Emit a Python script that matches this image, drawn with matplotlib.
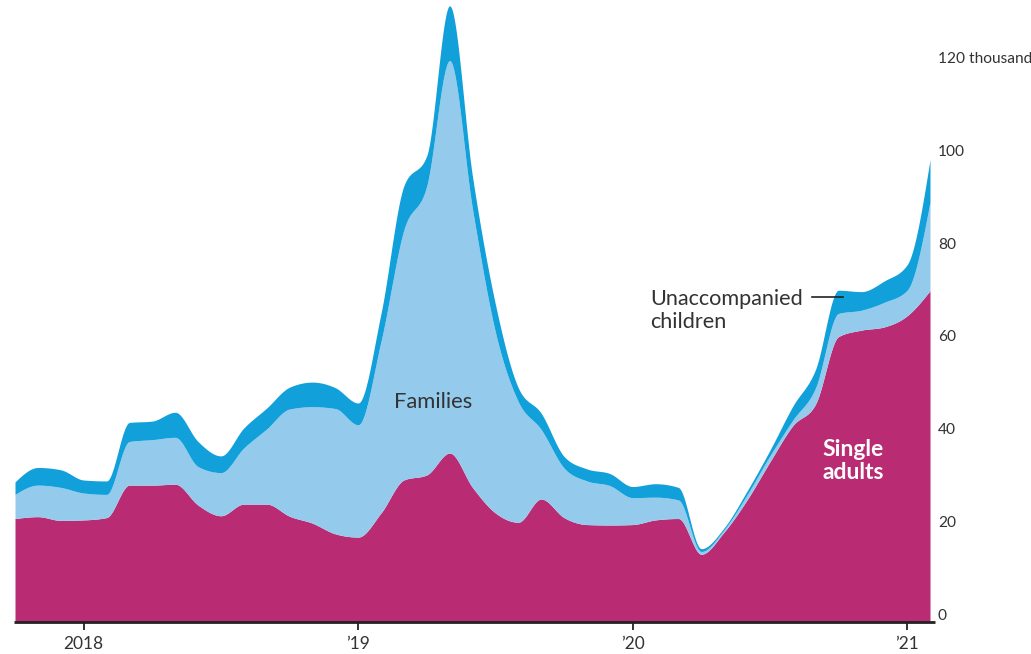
import numpy as np
import matplotlib
matplotlib.use("Agg")
import matplotlib.pyplot as plt
from matplotlib.transforms import blended_transform_factory

# Monthly data, Oct 2017 .. Feb 2021 (thousands)
months = ["2017-10", "2017-11", "2017-12", "2018-01", "2018-02", "2018-03", "2018-04", "2018-05",
          "2018-06", "2018-07", "2018-08", "2018-09", "2018-10", "2018-11", "2018-12", "2019-01",
          "2019-02", "2019-03", "2019-04", "2019-05", "2019-06", "2019-07", "2019-08", "2019-09",
          "2019-10", "2019-11", "2019-12", "2020-01", "2020-02", "2020-03", "2020-04", "2020-05",
          "2020-06", "2020-07", "2020-08", "2020-09", "2020-10", "2020-11", "2020-12", "2021-01",
          "2021-02"]
single_adults = [22.3, 22.7, 21.9, 22.0, 22.5, 29.5, 29.5, 29.7, 25.2, 22.9, 25.4, 25.4, 22.8, 21.3,
                 19.0, 18.3, 23.5, 30.6, 31.7, 36.4, 29.0, 23.5, 21.5, 26.5, 22.5, 21.0, 20.9, 21.0,
                 22.0, 22.3, 14.6, 19.4, 26.3, 34.5, 42.3, 47.0, 61.5, 62.9, 63.6, 66.0, 71.4]
families = [5.2, 6.8, 7.1, 5.8, 5.0, 9.4, 9.8, 10.1, 8.3, 9.3, 12.1, 16.2, 23.1, 25.1,
            27.0, 24.2, 37.0, 53.9, 62.3, 84.6, 60.0, 39.0, 26.0, 15.0, 10.7, 9.4, 8.5, 5.8,
            4.9, 4.0, 0.6, 0.5, 1.1, 1.3, 1.2, 3.5, 5.0, 4.3, 5.3, 5.5, 19.1]
unaccompanied_children = [2.7, 3.8, 3.8, 2.8, 2.9, 4.1, 4.0, 5.4, 5.4, 3.6, 4.3, 4.5, 4.7, 5.3,
                          4.5, 4.7, 6.0, 9.5, 6.5, 11.8, 7.0, 6.0, 3.0, 3.5, 2.5, 2.6, 2.6, 2.4,
                          2.9, 2.7, 0.6, 0.4, 0.8, 1.2, 3.0, 4.0, 5.0, 4.0, 4.6, 5.5, 9.1]
year_ticks = [3, 15, 27, 39]
year_labels = ["2018", "\u201919", "\u201920", "\u201921"]
y_ticks = [0, 20, 40, 60, 80, 100, 120]
y_labels = ["0", "20", "40", "60", "80", "100", "120 thousand"]

C_ADULT = "#B92B72"
C_FAM = "#94CAEC"
C_UAC = "#12A0DA"
TXT = "#333333"


def monotone(x, y, xs):
    """Monotone cubic (d3 curveMonotoneX style) evaluation for drawing."""
    x = np.asarray(x, float); y = np.asarray(y, float)
    h = np.diff(x); s = np.diff(y) / h
    n = len(x)
    m = np.zeros(n)
    for i in range(1, n - 1):
        s0, s1 = s[i - 1], s[i]
        p = (s0 * h[i] + s1 * h[i - 1]) / (h[i - 1] + h[i])
        m[i] = (np.sign(s0) + np.sign(s1)) * min(abs(s0), abs(s1), 0.5 * abs(p))
    m[0] = (3 * s[0] - m[1]) / 2
    m[-1] = (3 * s[-1] - m[-2]) / 2
    idx = np.clip(np.searchsorted(x, xs) - 1, 0, n - 2)
    t = (xs - x[idx]) / h[idx]
    t2, t3 = t * t, t * t * t
    h00 = 2 * t3 - 3 * t2 + 1
    h10 = t3 - 2 * t2 + t
    h01 = -2 * t3 + 3 * t2
    h11 = t3 - t2
    return h00 * y[idx] + h10 * h[idx] * m[idx] + h01 * y[idx + 1] + h11 * h[idx] * m[idx + 1]


x = np.arange(len(months))
b1 = np.array(single_adults)
b2 = b1 + np.array(families)
b3 = b2 + np.array(unaccompanied_children)
xs = np.linspace(0, len(months) - 1, 2000)
s1 = monotone(x, b1, xs)
s2 = monotone(x, b2, xs)
s3 = monotone(x, b3, xs)

fig = plt.figure(figsize=(10.31, 6.54), dpi=100)
ax = fig.add_axes([15 / 1031, 32 / 654, 915 / 1031, 622 / 654])
ax.set_xlim(0, len(months) - 1)
ax.set_ylim(0, 622 / 4.64)

ax.fill_between(xs, 0, s1, color=C_ADULT, lw=0)
ax.fill_between(xs, s1, s2, color=C_FAM, lw=0)
ax.fill_between(xs, s2, s3, color=C_UAC, lw=0)

for sp in ax.spines.values():
    sp.set_visible(False)
ax.set_yticks([])
ax.set_xticks(year_ticks)
ax.set_xticklabels(year_labels, fontsize=12.5, color=TXT, family="Lato")
ax.tick_params(axis="x", length=6, width=1.3, color="#222222", pad=4)

# baseline
ax.plot([-0.05, 40.2], [0, 0], color="#222222", lw=2, clip_on=False, solid_capstyle="butt")

# y labels on right
tr = blended_transform_factory(ax.transAxes, ax.transData)
for v, lab in zip(y_ticks, y_labels):
    ax.text((938 - 15) / 915, v + 1.35, lab, transform=tr, ha="left", va="center",
            fontsize=11.2, color=TXT, family="Lato")

ax.text(18.27, 47.4, "Families", ha="center", va="center", fontsize=15.8,
        color=TXT, family="Lato")
ax.text(27.76, 67.1, "Unaccompanied\nchildren", ha="left", va="center", fontsize=15.6,
        color=TXT, family="Lato", linespacing=1.22)
ax.plot([34.84, 36.2], [70.0, 70.0], color="#222222", lw=1.2)
ax.text(35.28, 34.7, "Single\nadults", ha="left", va="center", fontsize=16.5,
        color="white", family="Lato", fontweight="bold", linespacing=1.1)

fig.savefig("out.png", dpi=100)
